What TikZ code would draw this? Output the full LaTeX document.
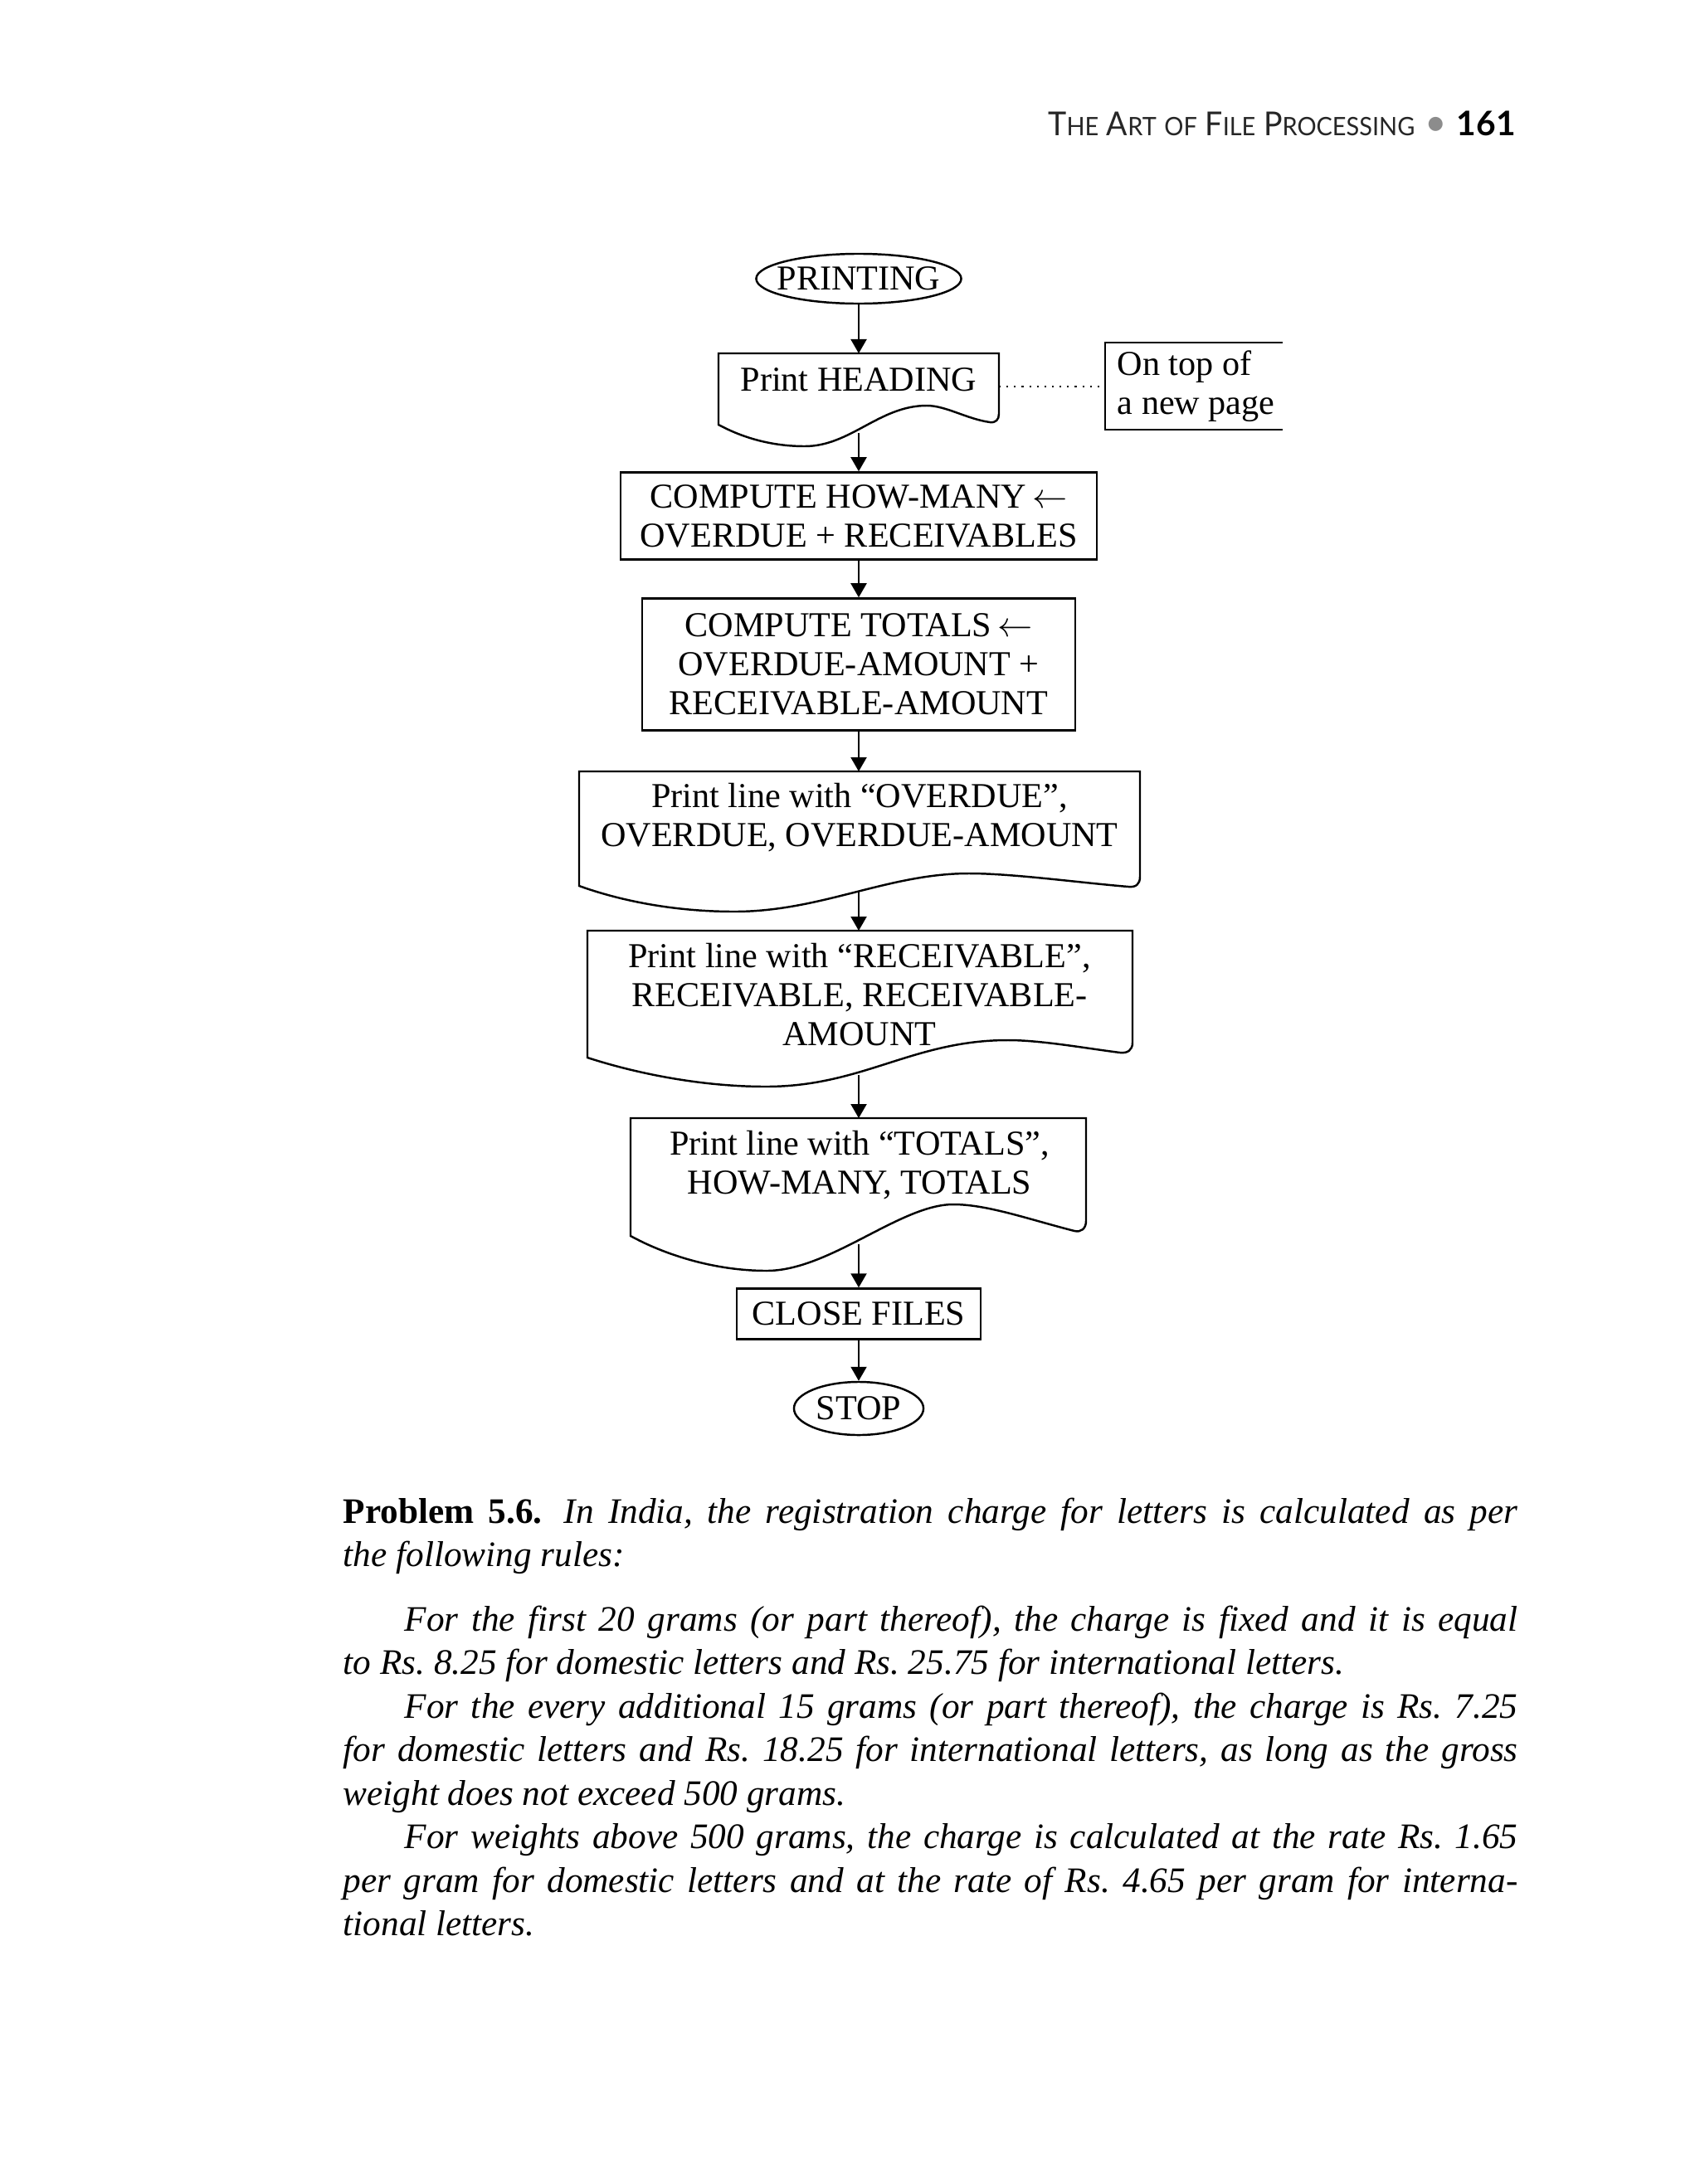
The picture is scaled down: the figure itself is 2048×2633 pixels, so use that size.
\documentclass[tikz,border=0pt]{standalone}
\usepackage{fontspec}
\setmainfont{Liberation Serif}
\newfontfamily\headfont{Lato}
\usetikzlibrary{shapes.geometric,arrows.meta}
\newcommand\flowfont{\fontsize{12}{13.4}\selectfont}
\newcommand\hdsc[1]{{\fontsize{8.7}{10}\selectfont #1}}
\begin{document}
\begin{tikzpicture}[x=0.01cm,y=-0.01cm,
  lw/.style={line width=0.7pt},
  boxnode/.style={draw, line width=0.7pt, inner sep=0pt, align=center, font=\flowfont},
  termnode/.style={ellipse, draw, line width=0.7pt, inner xsep=-0.35cm, inner ysep=-0.1cm, font=\flowfont},
  txt/.style={inner sep=0pt, align=center, font=\flowfont},
  arr/.style={line width=0.6pt, -{Triangle[length=0.17cm,width=0.19cm]}},
  dotline/.style={line width=0.6pt, dash pattern=on 0.6pt off 2pt}]
\fill[white] (0,0) rectangle (2048,2633);
\useasboundingbox (0,0) rectangle (2048,2633);

% running head
\node[anchor=base east, inner sep=0pt, font=\headfont\fontsize{11.3}{13}\selectfont, text=black!85] (head) at (1706,163)
  {\scalebox{0.945}[1]{T\hdsc{HE} A\hdsc{RT} \hdsc{OF} F\hdsc{ILE} P\hdsc{ROCESSING}}};
\node[inner sep=0pt, font=\headfont\fontsize{13}{13}\selectfont, text=black!45] (bullet) at (1731,152) {•};
\node[anchor=base west, inner sep=0pt, font=\headfont\bfseries\fontsize{11.6}{13}\selectfont] (pageno) at (1755,163) {161};

% flowchart
\node[termnode, minimum width=2.47cm, minimum height=0.6cm] (printing) at (1035,336) {PRINTING};

% document 1: Print HEADING
\draw[lw] (866,426) -- (1204,426) -- (1204,499) .. controls (1204,506) and (1200,510) .. (1193,509)
  .. controls (1165,505) and (1140,489) .. (1117,489) .. controls (1060,489) and (1025,538) .. (970,538)
  .. controls (925,538) and (890,525) .. (866,512) -- cycle;
\coordinate (d1top) at (1035,426);
\coordinate (d1bot) at (1035,522);
\node[txt, anchor=base] (heading) at (1035,471) {Print HEADING};

% annotation
\coordinate (d1right) at (1204,466);
\coordinate (noteleft) at (1332,466);
\draw[lw] (1546,413) -- (1332,413) -- (1332,518) -- (1546,518);
\node[txt, align=left, anchor=west] (note) at (1346,466) {On top of\\a new page};
\draw[dotline] (d1right) -- (noteleft);

% process boxes
\node[boxnode, minimum width=5.74cm, minimum height=1.05cm] (howmany) at (1035,622)
  {COMPUTE HOW-MANY\,$\leftarrow$\\OVERDUE + RECEIVABLES};
\node[boxnode, minimum width=5.22cm, minimum height=1.59cm] (totals) at (1035,801)
  {COMPUTE TOTALS\,$\leftarrow$\\OVERDUE-AMOUNT +\\RECEIVABLE-AMOUNT};

% document 3
\draw[lw] (698,930) -- (1374,930) -- (1374,1057) .. controls (1374,1066) and (1369,1070) .. (1360,1069)
  .. controls (1300,1064) and (1220,1053) .. (1168,1053) .. controls (1070,1053) and (990,1099) .. (885,1099)
  .. controls (810,1099) and (745,1085) .. (698,1068) -- cycle;
\coordinate (d3top) at (1035,930);
\coordinate (d3bot) at (1035,1075);
\node[txt] (overdue) at (1036,986) {Print line with “OVERDUE”,\\OVERDUE, OVERDUE-AMOUNT};

% document 4
\draw[lw] (708,1122) -- (1365,1122) -- (1365,1257) .. controls (1365,1266) and (1359,1270) .. (1350,1269)
  .. controls (1310,1264) and (1255,1254) .. (1215,1254) .. controls (1100,1254) and (1040,1310) .. (923,1310)
  .. controls (840,1310) and (760,1292) .. (708,1275) -- cycle;
\coordinate (d4top) at (1035,1122);
\coordinate (d4bot) at (1035,1296);
\node[txt] (receivable) at (1036,1199) {Print line with “RECEIVABLE”,\\RECEIVABLE, RECEIVABLE-\\AMOUNT};

% document 5
\draw[lw] (760,1348) -- (1309,1348) -- (1309,1472) .. controls (1309,1481) and (1303,1486) .. (1295,1484)
  .. controls (1240,1470) and (1190,1452) .. (1149,1452) .. controls (1085,1452) and (1000,1532) .. (924,1532)
  .. controls (860,1532) and (800,1512) .. (760,1490) -- cycle;
\coordinate (d5top) at (1035,1348);
\coordinate (d5bot) at (1035,1500);
\node[txt] (totline) at (1036,1405) {Print line with “TOTALS”,\\HOW-MANY, TOTALS};

\node[boxnode, minimum width=2.94cm, minimum height=0.61cm] (close) at (1035,1584) {CLOSE FILES};
\node[termnode, minimum width=1.56cm, minimum height=0.64cm] (stop) at (1035,1698) {STOP};

% connectors
\draw[arr] (printing.south) -- (d1top);
\draw[arr] (d1bot) -- (howmany.north);
\draw[arr] (howmany.south) -- (totals.north);
\draw[arr] (totals.south) -- (d3top);
\draw[arr] (d3bot) -- (d4top);
\draw[arr] (d4bot) -- (d5top);
\draw[arr] (d5bot) -- (close.north);
\draw[arr] (close.south) -- (stop.north);

% problem text
\node[anchor=base west, inner sep=0pt] (problem) at (413,1836) {\parbox[t]{14.15cm}{%
  \fontsize{12.3}{14.94}\selectfont\frenchspacing
  \tolerance=10000 \hbadness=10000 \hyphenpenalty=10000
  \setlength{\parindent}{0.74cm}\setlength{\parskip}{0pt}%
  \noindent\textbf{Problem 5.6.}\hspace{0.6em}\textit{In India, the registration charge for letters is calculated as per\linebreak the following rules:}\par
  \vspace{7.1pt}
  \itshape
  For the first 20 grams (or part thereof), the charge is fixed and it is equal\linebreak to Rs. 8.25 for domestic letters and Rs. 25.75 for international letters.\par
  For the every additional 15 grams (or part thereof), the charge is Rs. 7.25\linebreak for domestic letters and Rs. 18.25 for international letters, as long as the gross\linebreak weight does not exceed 500 grams.\par
  For weights above 500 grams, the charge is calculated at the rate Rs. 1.65\linebreak per gram for domestic letters and at the rate of Rs. 4.65 per gram for interna-\linebreak tional letters.\par}};
\end{tikzpicture}
\end{document}
